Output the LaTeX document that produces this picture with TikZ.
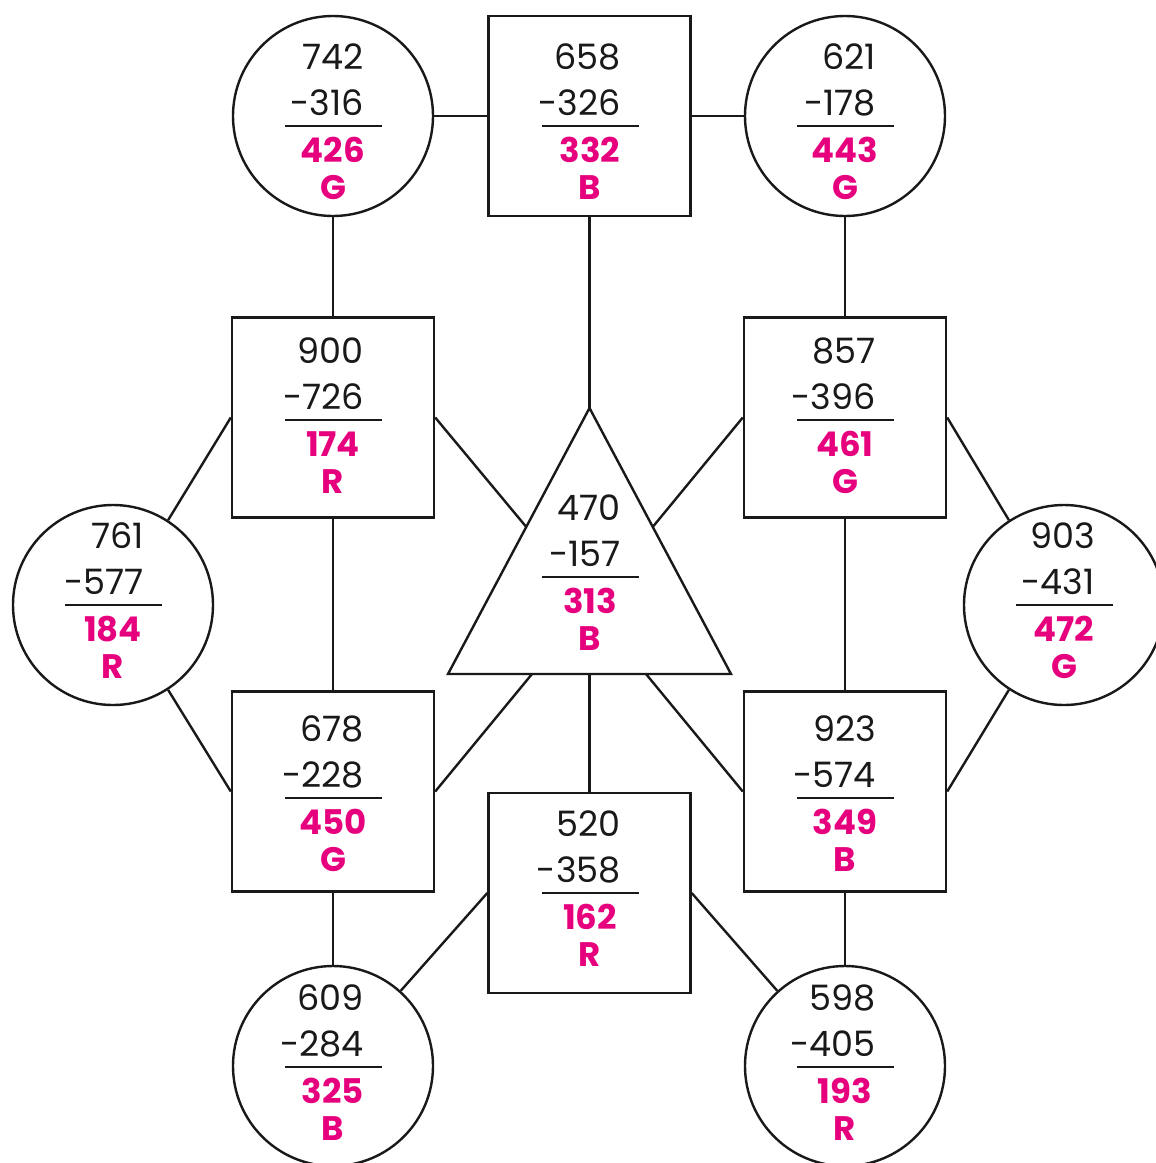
\documentclass[tikz,border=0pt]{standalone}
\usepackage{fontspec}
\setmainfont{Poppins}
\usetikzlibrary{calc}
\definecolor{mag}{RGB}{230,0,126}
\tikzset{
  shp/.style={draw=black!90, line width=2.4pt},
  sq/.style={shp, rectangle, minimum width=202pt, minimum height=200pt, inner sep=0pt},
  cir/.style={shp, circle, minimum size=200pt, inner sep=0pt},
  con/.style={draw=black!90, line width=2.4pt},
  blk/.style={inner sep=0pt, font=\fontsize{35}{40}\selectfont, text=black!90},
  magt/.style={inner sep=0pt, font=\fontsize{34}{40}\selectfont\bfseries, text=mag},
  rulel/.style={draw=black!90, line width=2.5pt}
}
\newcommand\subtr[7]{%
  \node[blk, anchor=east] (#1a) at (#2+31,#3-59) {#4};
  \node[blk, anchor=east] (#1b) at (#2+31,#3-13) {#5};
  \draw[rulel] (#2-48,#3+10) -- (#2+49,#3+10);
  \node[magt] (#1c) at (#2,#3+34) {#6};
  \node[magt] (#1d) at (#2,#3+72) {#7};
}
\begin{document}
\begin{tikzpicture}[x=1pt,y=-1pt]
\useasboundingbox (0,0) rectangle (1156,1163);
\clip (0,0) rectangle (1156,1163);
% shapes
\node[cir] (tl) at (333,116) {};
\node[sq] (ts) at (589.5,116) {};
\node[cir] (tr) at (845,116) {};
\node[sq] (ml) at (333,417.5) {};
\node[sq] (mr) at (845,417.5) {};
\node[cir] (lc) at (113,605) {};
\node[cir] (rc) at (1064,605) {};
\node[sq] (ll) at (333,791.5) {};
\node[sq] (lr) at (845,791.5) {};
\node[sq] (bs) at (589.5,893) {};
\node[cir] (bl) at (333,1066) {};
\node[cir] (br) at (845,1066) {};
% triangle
\coordinate (ta) at (589.5,408);
\coordinate (tbl) at (448,674);
\coordinate (tbr) at (731,674);
\draw[shp, line join=miter] (ta) -- (tbl) -- (tbr) -- cycle;
\coordinate (tls) at ($(ta)!0.447!(tbl)$);
\coordinate (trs) at ($(ta)!0.447!(tbr)$);
\coordinate (tb1) at (532,674);
\coordinate (tb2) at (589.5,674);
\coordinate (tb3) at (646,674);
% connectors
\draw[con] (tl.east) -- (ts.west);
\draw[con] (ts.east) -- (tr.west);
\draw[con] (tl.south) -- (ml.north);
\draw[con] (tr.south) -- (mr.north);
\draw[con] (ts.south) -- (ta);
\draw[con] (ml.east) -- (tls);
\draw[con] (mr.west) -- (trs);
\draw[con] (ml.west) -- (lc.57);
\draw[con] (ll.west) -- (lc.-57);
\draw[con] (mr.east) -- (rc.123);
\draw[con] (lr.east) -- (rc.-123);
\draw[con] (ml.south) -- (ll.north);
\draw[con] (mr.south) -- (lr.north);
\draw[con] (tb1) -- (ll.east);
\draw[con] (tb3) -- (lr.west);
\draw[con] (tb2) -- (bs.north);
\draw[con] (ll.south) -- (bl.north);
\draw[con] (lr.south) -- (br.north);
\draw[con] (bs.west) -- (bl.48);
\draw[con] (bs.east) -- (br.132);
% texts
\subtr{t1}{333}{116}{742}{-316}{426}{G}
\subtr{t2}{590}{116}{658}{-326}{332}{B}
\subtr{t3}{845}{116}{621}{-178}{443}{G}
\subtr{t4}{333}{410}{900}{-726}{174}{R}
\subtr{t5}{845}{410}{857}{-396}{461}{G}
\subtr{t6}{113}{595}{761}{-577}{184}{R}
\subtr{t7}{1064}{595}{903}{-431}{472}{G}
\subtr{t8}{590}{567}{470}{-157}{313}{B}
\subtr{t9}{333}{788}{678}{-228}{450}{G}
\subtr{t10}{845}{788}{923}{-574}{349}{B}
\subtr{t11}{590}{883}{520}{-358}{162}{R}
\subtr{t12}{333}{1057}{609}{-284}{325}{B}
\subtr{t13}{845}{1057}{598}{-405}{193}{R}
\end{tikzpicture}
\end{document}
